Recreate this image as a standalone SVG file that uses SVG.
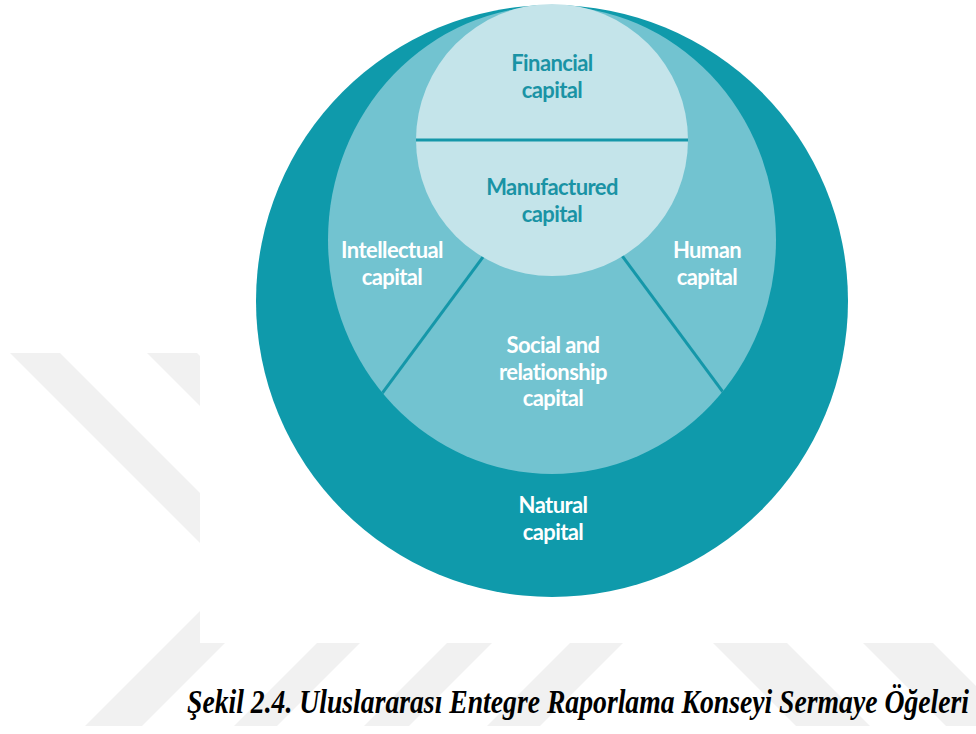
<svg xmlns="http://www.w3.org/2000/svg" width="976" height="734" viewBox="0 0 976 734">
<style>
.wm{fill:#f1f1f1}
.lbl{font-family:Lato,"Open Sans","Liberation Sans",sans-serif;font-weight:700;font-size:22px;text-anchor:middle;letter-spacing:-0.6px}
.dark{fill:#1a93a5}
.light{fill:#ffffff}
.div{stroke:#1597a9;stroke-width:3;fill:none}
.cap{font-family:"Liberation Serif","Times New Roman",serif;font-weight:700;font-style:italic;font-size:34px;fill:#000}
</style>
<defs>
<clipPath id="midClip"><ellipse cx="552" cy="240" rx="224" ry="234"/></clipPath>
</defs>
<g id="watermark">
<polygon class="wm" points="10,353 60,353 307,600 257,600"/>
<polygon class="wm" points="147,353 197,353 444,600 394,600"/>
<polygon class="wm" points="211,600 268,600 142,726 85,726"/>
<polygon class="wm" points="317,643 360,643 277,726 234,726"/>
<polygon class="wm" points="447,643 492,643 409,726 364,726"/>
<polygon class="wm" points="570,643 623,643 540,726 487,726"/>
<polygon class="wm" points="713,643 787,643 870,726 796,726"/>
<polygon class="wm" points="863,643 933,643 1016,726 946,726"/>
<rect x="200" y="0" width="776" height="643" fill="#ffffff"/>
</g>
<g id="natural">
<circle cx="552" cy="301" r="296" fill="#0f9aab"/>
<text class="lbl light" x="553" y="513">Natural</text>
<text class="lbl light" x="553" y="540">capital</text>
</g>
<g id="middle-ring">
<ellipse cx="552" cy="240" rx="224" ry="234" fill="#72c3d0"/>
</g>
<g id="connectors" clip-path="url(#midClip)">
<line class="div" x1="520" y1="207" x2="301" y2="503"/>
<line class="div" x1="586" y1="207" x2="805" y2="503"/>
</g>
<g id="intellectual">
<text class="lbl light" x="392" y="258">Intellectual</text>
<text class="lbl light" x="392" y="285">capital</text>
</g>
<g id="human">
<text class="lbl light" x="707" y="258">Human</text>
<text class="lbl light" x="707" y="285">capital</text>
</g>
<g id="social">
<text class="lbl light" x="553" y="353">Social and</text>
<text class="lbl light" x="553" y="380">relationship</text>
<text class="lbl light" x="553" y="406">capital</text>
</g>
<g id="financial">
<circle cx="552" cy="140" r="136" fill="#c4e4ea"/>
<line class="div" x1="416" y1="140" x2="688" y2="140"/>
<text class="lbl dark" x="552" y="71">Financial</text>
<text class="lbl dark" x="552" y="98">capital</text>
</g>
<g id="manufactured">
<text class="lbl dark" x="552" y="195">Manufactured</text>
<text class="lbl dark" x="552" y="222">capital</text>
</g>
<text class="cap" x="187" y="713" textLength="782" lengthAdjust="spacingAndGlyphs">Şekil 2.4. Uluslararası Entegre Raporlama Konseyi Sermaye Öğeleri</text>
</svg>
